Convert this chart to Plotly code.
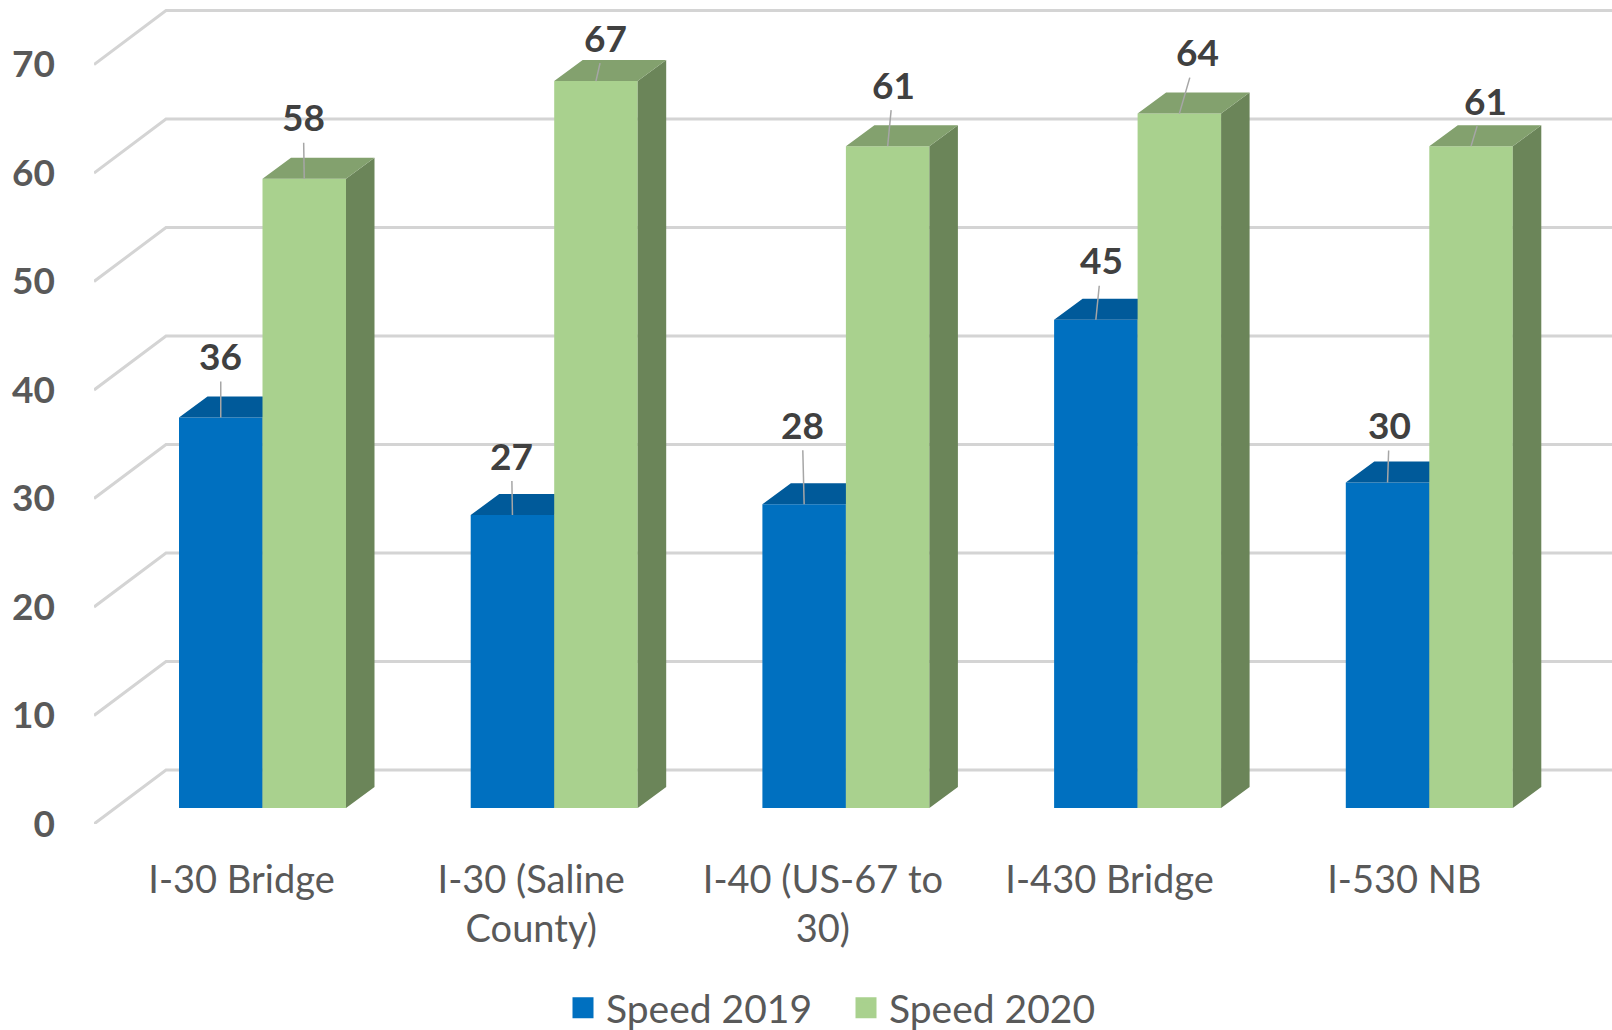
import plotly.graph_objects as go

categories = ["I-30 Bridge", "I-30 (Saline<br>County)", "I-40 (US-67 to<br>30)", "I-430 Bridge", "I-530 NB"]
speed_2019 = [36, 27, 28, 45, 30]
speed_2020 = [58, 67, 61, 64, 61]
y_ticks = [0, 10, 20, 30, 40, 50, 60, 70]

# Page geometry and 3-D look (styles only)
W, H = 1612, 1030
L, T, B = 94, 5, 824
GROUP = 291.7          # px per category
PXU = 10.85            # px per value unit
FRONT0 = 808           # px of value 0 on bar front plane
CENTER0 = 262.5        # px of first group centre
BW = 83.5 / GROUP      # bar width
DX, DY = 28.5 / GROUP, 21 / PXU      # bar depth
WX, WY = 72 / GROUP, 54 / PXU        # wall depth
LABEL_SHIFTS_PX = [-21, -23, -23, -28, -25]
FONT = "Lato, Carlito, sans-serif"

xmin = (L - CENTER0) / GROUP
xmax = (W - CENTER0) / GROUP
idx = list(range(len(categories)))


def faces(lefts, vals):
    sx, sy, tx, ty = [], [], [], []
    for a, v in zip(lefts, vals):
        b = a + BW
        sx += [b, b + DX, b + DX, b, b, None]
        sy += [0, DY, v + DY, v, 0, None]
        tx += [a, a + DX, b + DX, b, a, None]
        ty += [v, v + DY, v + DY, v, v, None]
    return sx, sy, tx, ty


fig = go.Figure()

# gridlines: floor/wall diagonal then back wall (bottom subplot)
gx, gy = [], []
for t in y_ticks:
    gx += [xmin, xmin + WX, xmax, None]
    gy += [t, t + WY, t + WY, None]
fig.add_trace(go.Scatter(x=gx, y=gy, mode="lines", line=dict(color="#d4d4d4", width=3),
                         hoverinfo="skip", showlegend=False, xaxis="x", yaxis="y"))

series = [
    ("Speed 2019", speed_2019, "y2", -BW, "#0070C0", "#005A9A", "#004F85"),
    ("Speed 2020", speed_2020, "y3", 0, "#A9D18E", "#83A16E", "#6B8559"),
]
for name, vals, ya, off, front, top, side in series:
    lefts = [i + off for i in idx]
    fig.add_trace(go.Bar(x=idx, y=vals, width=BW, offset=off, name=name, marker=dict(color=front, line=dict(width=0)),
                         showlegend=False, xaxis="x", yaxis=ya))
    sx, sy, tx, ty = faces(lefts, vals)
    fig.add_trace(go.Scatter(x=sx, y=sy, mode="lines", fill="toself", fillcolor=side, line=dict(width=0),
                             hoverinfo="skip", showlegend=False, xaxis="x", yaxis=ya))
    fig.add_trace(go.Scatter(x=tx, y=ty, mode="lines", fill="toself", fillcolor=top, line=dict(width=0),
                             hoverinfo="skip", showlegend=False, xaxis="x", yaxis=ya))
    # legend key
    fig.add_trace(go.Scatter(x=[None], y=[None], mode="markers", name=name,
                             marker=dict(symbol="square", size=16, color=front, line=dict(color=front, width=5)),
                             xaxis="x", yaxis=ya))

# data labels with leader lines (offsets in px)
off_2019 = [(0, -62), (-1, -60), (-2, -80), (6, -60), (2, -58)]
off_2020 = [(-1, -62), (10, -44), (6, -62), (18, -62), (14, -46)]
annos = []
for vals, ya, c, offs in ((speed_2019, "y2", -BW / 2, off_2019), (speed_2020, "y3", BW / 2, off_2020)):
    for i, v, (ax, ay) in zip(idx, vals, offs):
        annos.append(dict(x=i + c, y=v, xref="x", yref=ya, text=str(v), showarrow=True, arrowhead=0,
                          arrowwidth=1.5, arrowcolor="#a6a6a6", ax=ax, ay=ay, axref="pixel", ayref="pixel",
                          font=dict(family=FONT, size=37, color="#404040", weight="bold"), borderpad=3))

plot_h = B - T
rng_main = [0, plot_h / PXU]
rng_bar = [(FRONT0 - B) / PXU, (FRONT0 - T) / PXU]

fig.update_layout(
    width=W, height=H, margin=dict(l=L, r=0, t=T, b=H - B, autoexpand=False),
    paper_bgcolor="white", plot_bgcolor="rgba(0,0,0,0)",
    font=dict(family=FONT, color="#595959"),
    annotations=annos,
    hovermode=False,
    xaxis=dict(range=[xmin, xmax], tickmode="array", tickvals=[i + s / GROUP for i, s in zip(idx, LABEL_SHIFTS_PX)],
               ticktext=categories,
               showgrid=False, zeroline=False, showline=False, ticks="", ticklabelstandoff=30,
               tickangle=0, tickfont=dict(family=FONT, size=38, color="#595959"), anchor="y", automargin=False),
    yaxis=dict(range=rng_main, tickmode="array", tickvals=y_ticks, ticktext=[str(t) for t in y_ticks],
               showgrid=False, zeroline=False, showline=False, ticks="", ticklabelstandoff=38,
               tickfont=dict(family=FONT, size=37, color="#595959", weight="bold"), automargin=False),
    yaxis2=dict(range=rng_bar, overlaying="y", visible=False),
    yaxis3=dict(range=rng_bar, overlaying="y", visible=False),
    legend=dict(orientation="h", x=(560 - L) / (W - L), xanchor="left", y=-(1008 - B) / plot_h, yanchor="middle",
                font=dict(family=FONT, size=39, color="#595959"), itemwidth=36, entrywidth=232, entrywidthmode="pixels",
                bgcolor="rgba(0,0,0,0)"),
)

fig.write_html("out.html", config={"displayModeBar": False},
               post_script="document.body.style.margin='0';document.body.style.overflow='hidden';")
